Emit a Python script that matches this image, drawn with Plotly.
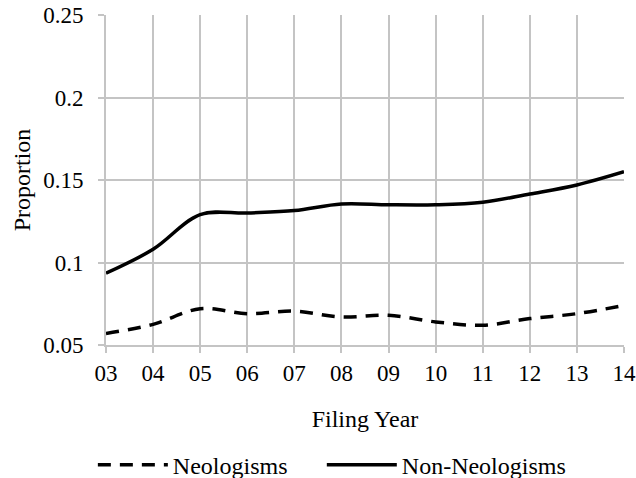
import plotly.graph_objects as go

years = ["03", "04", "05", "06", "07", "08", "09", "10", "11", "12", "13", "14"]
neologisms = [0.057, 0.0625, 0.072, 0.069, 0.0705, 0.067, 0.068, 0.064, 0.062, 0.066, 0.069, 0.074]
non_neologisms = [0.0935, 0.108, 0.129, 0.130, 0.1315, 0.1355, 0.135, 0.135, 0.1365, 0.1415, 0.147, 0.155]
y_ticks = [0.05, 0.1, 0.15, 0.2, 0.25]
y_tick_text = ["0.05", "0.1", "0.15", "0.2", "0.25"]

font_family = "Liberation Serif"
grid = "#c4c4c4"

fig = go.Figure()
fig.add_trace(go.Scatter(
    x=years, y=neologisms, name="Neologisms", mode="lines", legend="legend",
    line=dict(color="black", width=3.5, dash="13px,9px", shape="spline", smoothing=1.0),
))
fig.add_trace(go.Scatter(
    x=years, y=non_neologisms, name="Non-Neologisms", mode="lines", legend="legend2",
    line=dict(color="black", width=3.5, shape="spline", smoothing=1.0),
))

legend_common = dict(orientation="h", xanchor="left", xref="container",
                     yref="container", y=0.027, yanchor="middle",
                     font=dict(family=font_family, size=24), itemwidth=70,
                     bgcolor="rgba(0,0,0,0)")

fig.update_layout(
    width=636, height=478,
    margin=dict(l=106, r=12, t=15, b=133, autoexpand=False),
    plot_bgcolor="white", paper_bgcolor="white",
    font=dict(family=font_family, size=23, color="black"),
    showlegend=True,
    legend=dict(x=0.146, **legend_common),
    legend2=dict(x=0.506, **legend_common),
    xaxis=dict(
        type="category", range=[0, 11],
        showgrid=True, gridcolor=grid, gridwidth=2,
        showline=True, linecolor=grid, linewidth=2,
        ticks="outside", tickcolor=grid, ticklen=6, tickwidth=2,
        title=dict(text="Filing Year", font=dict(family=font_family, size=24), standoff=26),
        tickfont=dict(family=font_family, size=23),
        zeroline=False,
    ),
    yaxis=dict(
        range=[0.05, 0.25], tickvals=y_ticks, ticktext=y_tick_text,
        showgrid=True, gridcolor=grid, gridwidth=2,
        showline=True, linecolor=grid, linewidth=2,
        ticks="outside", tickcolor=grid, ticklen=6, tickwidth=2,
        ticklabelstandoff=10,
        title=dict(text="Proportion", font=dict(family=font_family, size=24), standoff=6),
        tickfont=dict(family=font_family, size=23),
        zeroline=False,
    ),
)

fig.write_html("out.html", config={"displayModeBar": False},
               post_script="document.body.style.margin='0';document.body.style.overflow='hidden';")
